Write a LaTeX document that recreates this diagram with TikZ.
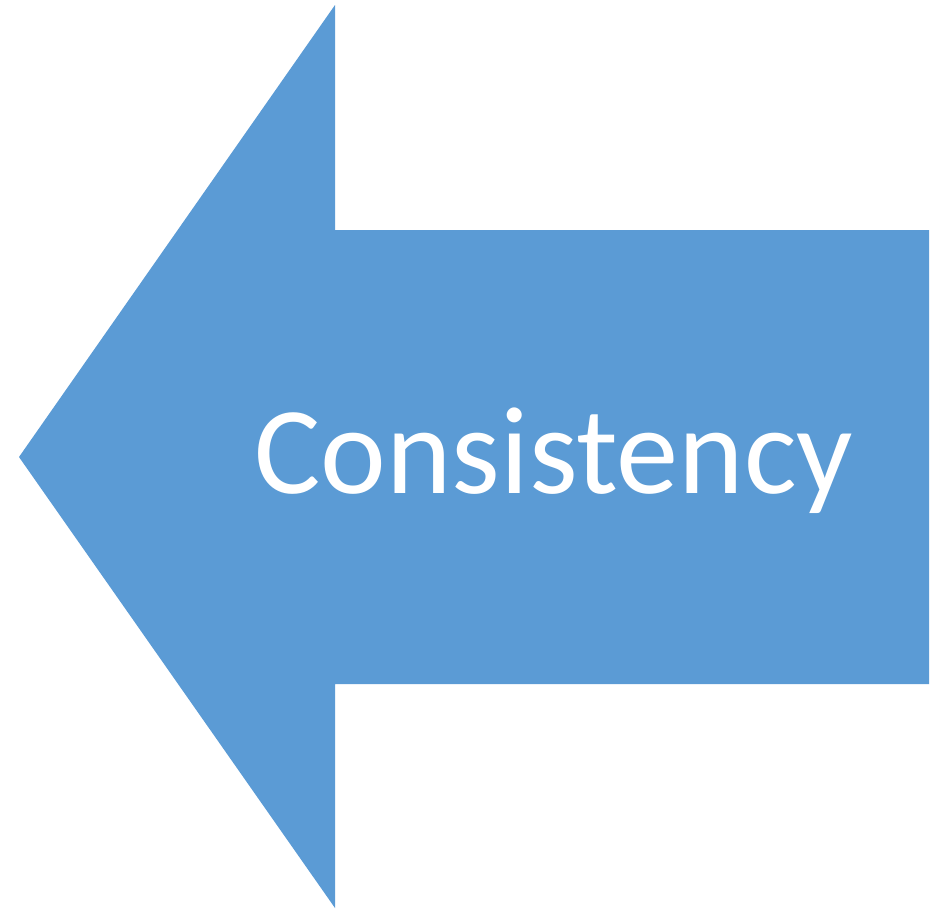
\documentclass[tikz,border=0pt]{standalone}
\usepackage{fontspec}
\setmainfont{Carlito}
\definecolor{arrowblue}{HTML}{5B9BD5}
\begin{document}
\begin{tikzpicture}[x=1pt, y=-1pt]
\tikzstyle{arrow} = [fill=arrowblue, draw=none]
\tikzstyle{label} = [text=white, inner sep=0pt, font=\fontsize{124.5}{150}\selectfont]

\useasboundingbox (0, 0) rectangle (949, 910);

\fill[arrow] (19, 457) -- (335, 5) -- (335, 230) -- (929, 230)
  -- (929, 684) -- (335, 684) -- (335, 908) -- cycle;

\node[label, anchor=base] (consistency) at (554, 493) {Consistency};
\end{tikzpicture}
\end{document}
